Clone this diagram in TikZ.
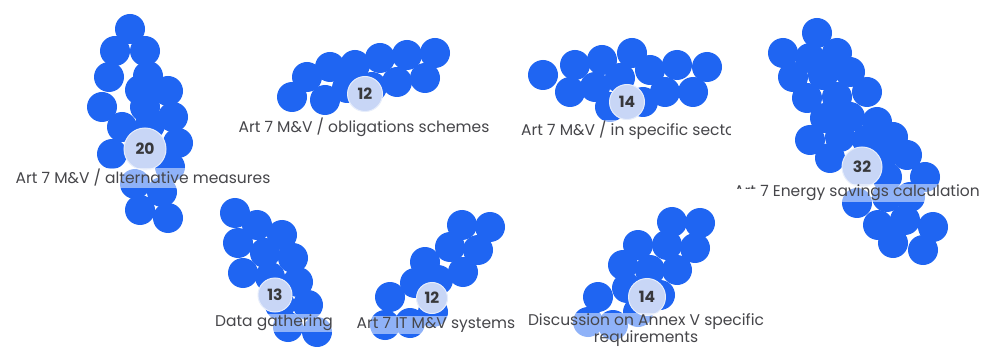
\documentclass[tikz,border=0pt]{standalone}
\usepackage{fontspec}
\setmainfont{Poppins}
\definecolor{dotblue}{RGB}{31,101,242}
\definecolor{bubblefill}{RGB}{200,214,246}
\definecolor{labelgrey}{RGB}{70,70,74}
\tikzset{
  dot/.style={fill=dotblue},
  bubble/.style={circle, fill=bubblefill, draw=white!55!bubblefill, line width=1pt, inner sep=0pt, text=labelgrey!80!black, font=\fontsize{15.5}{15.5}\selectfont\bfseries},
  lbl/.style={text=labelgrey, font=\fontsize{15.5}{16.5}\selectfont, inner sep=1pt, fill=white, fill opacity=0.5, text opacity=1, align=center}
}
\begin{document}
\begin{tikzpicture}[x=1pt,y=-1pt]
\useasboundingbox[fill=white] (0,0) rectangle (981,347);
% cluster 1 : alternative measures
\foreach \x/\y in {130/29,115/51,145/51,109/77,148/76,140/90,168/91,102/107,145/107,173/117,122/127,150/125,112/154,178/143,170/167,135/184,162/192,140/210,168/218}
  \fill[dot] (\x,\y) circle[radius=15pt];
% cluster 2 : obligations schemes
\foreach \x/\y in {292/97,307/77,330/67,355/65,380/58,407/55,435/53,325/100,347/88,372/87,397/82,425/78}
  \fill[dot] (\x,\y) circle[radius=15pt];
% cluster 3 : specific sector
\foreach \x/\y in {543/75,575/65,602/60,632/53,650/70,677/65,707/67,570/92,595/87,620/78,665/92,693/92,610/107,643/102}
  \fill[dot] (\x,\y) circle[radius=15pt];
% cluster 4 : energy savings calculation
\foreach \x/\y in {817/33,783/53,810/58,837/53,793/77,823/75,850/72,807/98,837/97,867/92,825/118,850/117,877/122,810/140,840/137,867/140,893/137,830/158,882/157,907/155,887/177,925/177,857/203,887/197,910/197,878/225,905/220,933/227,893/243,923/250}
  \fill[dot] (\x,\y) circle[radius=15pt];
% cluster 5 : data gathering
\foreach \x/\y in {235/213,257/225,282/235,238/243,265/253,293/258,243/273,270/277,298/282,280/305,308/305,288/327,317/332}
  \fill[dot] (\x,\y) circle[radius=15pt];
% cluster 6 : IT M&V systems
\foreach \x/\y in {462/225,490/227,450/247,478/250,425/262,463/272,415/283,438/280,390/297,433/312,385/325,410/323}
  \fill[dot] (\x,\y) circle[radius=15pt];
% cluster 7 : Annex V
\foreach \x/\y in {672/222,700/223,638/245,667/245,695/248,623/265,650/270,677/270,598/297,627/288,660/295,638/312,588/322,613/325}
  \fill[dot] (\x,\y) circle[radius=15pt];
% count bubbles
\node[bubble, minimum size=42pt] (n1) at (145,149) {20};
\node[bubble, minimum size=35pt] (n2) at (365,94) {12};
\node[bubble, minimum size=35pt] (n3) at (627,102) {14};
\node[bubble, minimum size=40pt] (n4) at (862,167) {32};
\node[bubble, minimum size=34pt] (n5) at (275,295) {13};
\node[bubble, minimum size=31pt] (n6) at (432,298) {12};
\node[bubble, minimum size=37pt] (n7) at (647,297) {14};
% labels
\node[lbl] (l1) at (143,178) {Art 7 M\&V / alternative measures};
\node[lbl] (l2) at (364,127) {Art 7 M\&V / obligations schemes};
\begin{scope}
  \clip (500,110) rectangle (730,150);
  \node[lbl] (l3) at (631,130) {Art 7 M\&V / in specific sector};
\end{scope}
\begin{scope}
  \clip (725,170) -- (981,170) -- (981,210) -- (757,210) -- (757,189) -- (725,189) -- cycle;
  \node[lbl] (l4) at (857,193) {Art 7 Energy savings calculation};
\end{scope}
\node[lbl] (l5) at (274,323) {Data gathering};
\node[lbl] (l6) at (436,325) {Art 7 IT M\&V systems};
\node[lbl] (l7) at (646,330) {Discussion on Annex V specific\\requirements};
\end{tikzpicture}
\end{document}
